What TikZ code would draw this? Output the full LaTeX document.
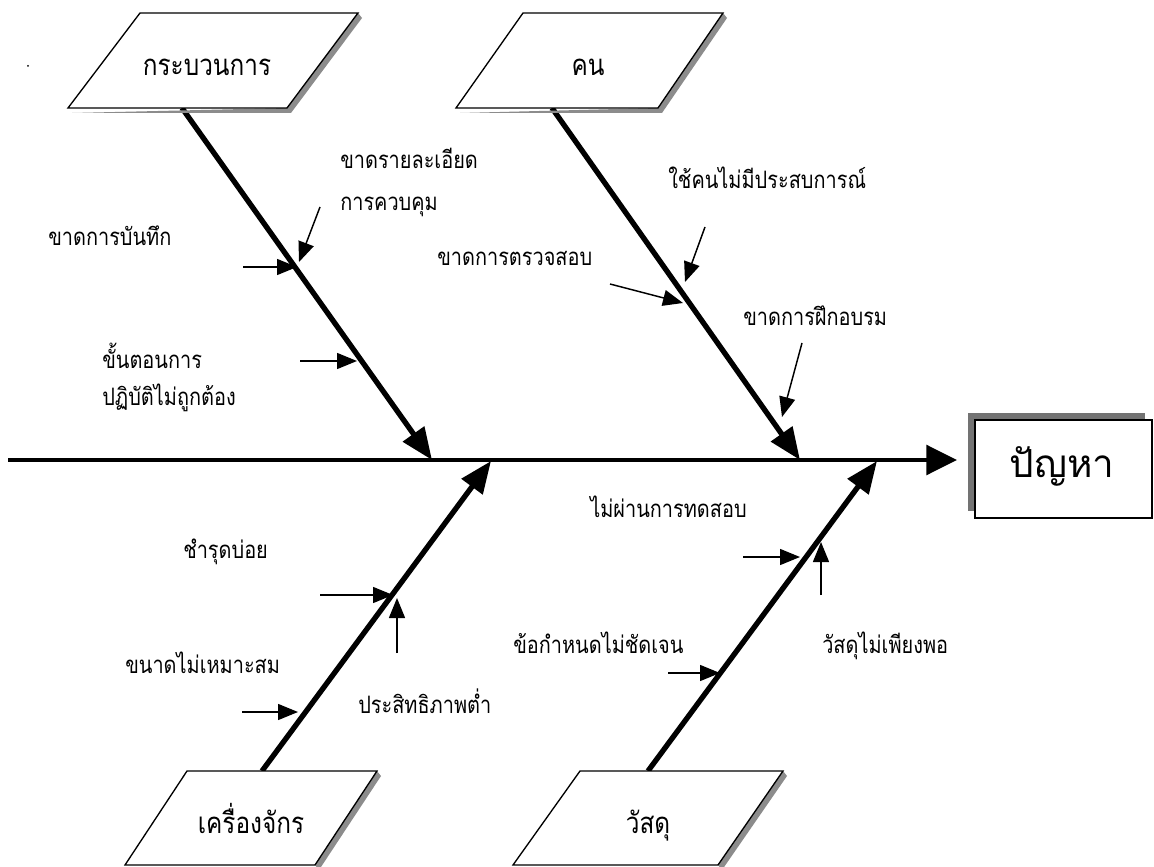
\documentclass[tikz,border=0pt]{standalone}
\usepackage{fontspec}
\newfontfamily\thai[Script=Thai]{Loma}
\newfontfamily\thainarrow[Script=Thai,FakeStretch=0.83]{Loma}
\usetikzlibrary{arrows.meta}
\begin{document}
\begin{tikzpicture}[x=0.75pt,y=-0.75pt,
  bone/.style={line width=4pt,-{Triangle[length=24pt,width=19pt]}},
  spineline/.style={line width=3.6pt,-{Triangle[length=23pt,width=22pt]}},
  cause/.style={line width=1.1pt,-{Triangle[length=15pt,width=12pt]}},
  lbl/.style={font=\thainarrow\fontsize{18}{21}\selectfont, inner sep=0pt, anchor=base west},
  cat/.style={font=\thainarrow\fontsize{22}{26}\selectfont, inner sep=0pt, anchor=base},
  para/.style={draw=black, fill=white, line width=1pt},
  pshadow/.style={fill=black!45},
]
\useasboundingbox (0,0) rectangle (1154,867);
\fill[white] (0,0) rectangle (1154,867);
\fill (28,66) circle (1);

% spine
\coordinate (sp0) at (8,460);
\coordinate (sp1) at (957,460);
\draw[spineline] (sp0) -- (sp1);

% bones
\coordinate (b1s) at (182,108); \coordinate (b1e) at (432,460);
\coordinate (b2s) at (552,108); \coordinate (b2e) at (800,460);
\coordinate (b3s) at (262,771); \coordinate (b3e) at (491,461);
\coordinate (b4s) at (648,771); \coordinate (b4e) at (877,461);
\draw[bone] (b1s) -- (b1e);
\draw[bone] (b2s) -- (b2e);
\draw[bone] (b3s) -- (b3e);
\draw[bone] (b4s) -- (b4e);

% category parallelograms
\fill[pshadow] (72,113) -- (291,113) -- (362,18) -- (358,13) -- (287,108) -- cycle;
\draw[para] (68,108) -- (287,108) -- (358,13) -- (140,13) -- cycle;
\fill[pshadow] (460,113) -- (662,113) -- (727,18) -- (723,13) -- (658,108) -- cycle;
\draw[para] (456,108) -- (658,108) -- (723,13) -- (523,13) -- cycle;
\fill[pshadow] (377,771) -- (381,776) -- (319,870) -- (315,865) -- cycle;
\draw[para] (187,771) -- (377,771) -- (315,865) -- (125,865) -- cycle;
\fill[pshadow] (783,771) -- (787,776) -- (722,870) -- (718,865) -- cycle;
\draw[para] (580,771) -- (783,771) -- (718,865) -- (513,865) -- cycle;

\node[cat] (proc) at (207,76) {กระบวนการ};
\node[cat] (people) at (588,76) {คน};
\node[cat] (mach) at (251,833) {เครื่องจักร};
\node[cat] (mat) at (648,833) {วัสดุ};

% problem box
\fill[black!55] (968,413) rectangle (1145,511);
\node[draw, fill=white, line width=1.1pt, minimum width=132.75pt, minimum height=73.5pt, inner sep=0pt] (box) at (1063.5,469) {};
\node[font=\thai\fontsize{29}{33}\selectfont, inner sep=0pt, anchor=base] (prob) at (1062,477) {ปัญหา};

% cause labels
\node[lbl] (l1) at (48,245) {ขาดการบันทึก};
\node[lbl] (l2a) at (340,168) {ขาดรายละเอียด};
\node[lbl] (l2b) at (340,210) {การควบคุม};
\node[lbl] (l3a) at (102,368) {ขั้นตอนการ};
\node[lbl] (l3b) at (102,405) {ปฏิบัติไม่ถูกต้อง};
\node[lbl] (l4) at (668,188) {ใช้คนไม่มีประสบการณ์};
\node[lbl] (l5) at (437,265) {ขาดการตรวจสอบ};
\node[lbl] (l6) at (743,325) {ขาดการฝึกอบรม};
\node[lbl] (l7) at (183,558) {ชำรุดบ่อย};
\node[lbl] (l8) at (358,713) {ประสิทธิภาพต่ำ};
\node[lbl] (l9) at (125,673) {ขนาดไม่เหมาะสม};
\node[lbl] (l10) at (590,517) {ไม่ผ่านการทดสอบ};
\node[lbl] (l11) at (822,653) {วัสดุไม่เพียงพอ};
\node[lbl] (l12) at (513,653) {ข้อกำหนดไม่ชัดเจน};

% cause arrows
\coordinate (c1s) at (243,267); \coordinate (c1e) at (297,267);
\coordinate (c2s) at (320,207); \coordinate (c2e) at (299,262);
\coordinate (c3s) at (300,361); \coordinate (c3e) at (357,361);
\coordinate (c4s) at (705,227); \coordinate (c4e) at (685,282);
\coordinate (c5s) at (610,284); \coordinate (c5e) at (683,303);
\coordinate (c6s) at (802,343); \coordinate (c6e) at (782,417);
\coordinate (c7s) at (320,595); \coordinate (c7e) at (393,595);
\coordinate (c8s) at (397,653); \coordinate (c8e) at (397,598);
\coordinate (c9s) at (242,712); \coordinate (c9e) at (298,712);
\coordinate (c10s) at (743,557); \coordinate (c10e) at (800,557);
\coordinate (c11s) at (821,595); \coordinate (c11e) at (821,542);
\coordinate (c12s) at (668,673); \coordinate (c12e) at (720,673);
\foreach \i in {1,...,12} { \draw[cause] (c\i s) -- (c\i e); }
\end{tikzpicture}
\end{document}
